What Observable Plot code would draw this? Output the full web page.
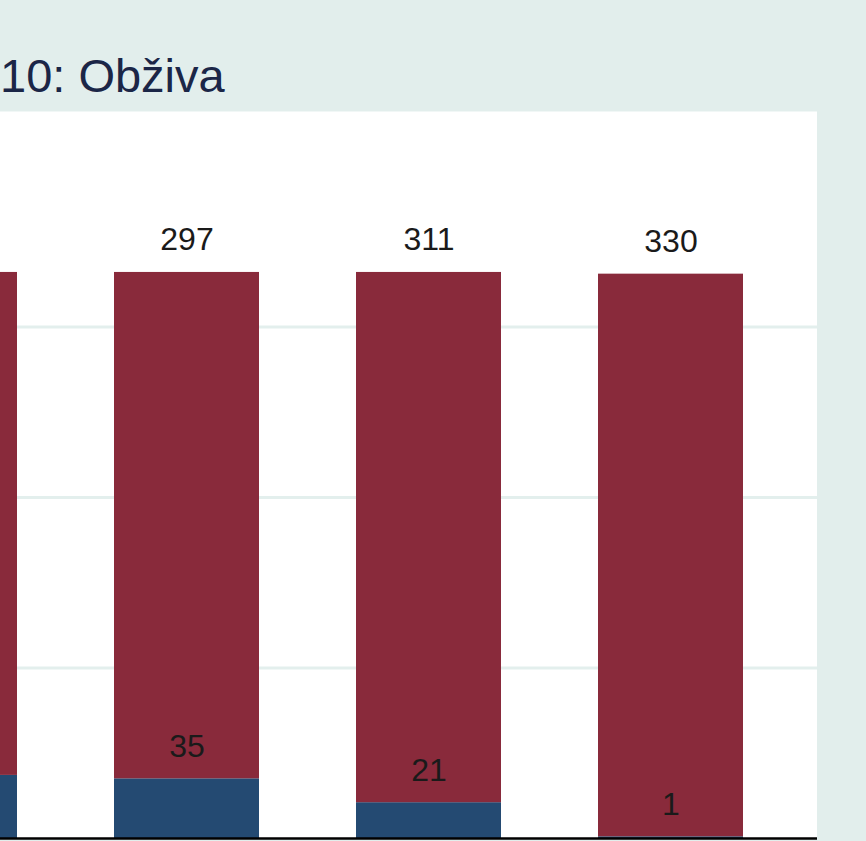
<!DOCTYPE html>
<html>
<head>
<meta charset="utf-8">
<script src="https://cdn.jsdelivr.net/npm/d3@7"></script>
<script src="https://cdn.jsdelivr.net/npm/@observablehq/plot@0.6"></script>
<style>
  html, body { margin: 0; padding: 0; }
  body { width: 866px; height: 841px; overflow: hidden; position: relative; background: #e2eeec; font-family: "Liberation Sans", Arial, sans-serif; }
  #title { position: absolute; left: 0px; top: 52px; font-size: 47px; line-height: 47px; color: #1b2647; white-space: nowrap; }
  #chart { position: absolute; left: -202px; top: 111px; }
</style>
</head>
<body>
<div id="title">10: Obživa</div>
<div id="chart"></div>
<script>
// Data (leftmost bar is cut off in the reference; its labels are not visible)
const categories = ["Skupina 1", "Skupina 2", "Skupina 3", "Skupina 4"];
const seriesNames = ["Da", "Ne"];           // bottom (blue), top (red)
const bottomValues = [37, 35, 21, 1];
const topValues = [295, 297, 311, 330];
const labelledCategories = ["Skupina 2", "Skupina 3", "Skupina 4"];
const gridTicks = [100, 200, 300];
const labelOffset = 19;

const rows = [];
categories.forEach((c, i) => {
  rows.push({cat: c, series: seriesNames[0], value: bottomValues[i]});
  rows.push({cat: c, series: seriesNames[1], value: topValues[i]});
});
const labels = categories.map((c, i) => ({
  cat: c, bottom: bottomValues[i], top: topValues[i], total: bottomValues[i] + topValues[i]
})).filter(d => labelledCategories.includes(d.cat));

const chart = Plot.plot({
  width: 1019,
  height: 730,
  marginLeft: 0,
  marginRight: 0,
  marginTop: 0,
  marginBottom: 3,
  style: {background: "transparent", fontFamily: "Liberation Sans, Arial, sans-serif"},
  x: {domain: categories, paddingInner: 0.4, paddingOuter: 0.3, axis: null},
  y: {domain: [0, 426.4], axis: null},
  color: {domain: seriesNames, range: ["#244a72", "#892a3b"]},
  marks: [
    Plot.frame({fill: "white", stroke: null}),
    Plot.ruleY(gridTicks, {stroke: "#e3efed", strokeWidth: 3}),
    Plot.barY(rows, {x: "cat", y: "value", fill: "series", order: seriesNames}),
    Plot.text(labels, {x: "cat", y: d => d.total + labelOffset, text: d => String(d.top), fontSize: 32, fill: "#1a1a1a"}),
    Plot.text(labels, {x: "cat", y: d => d.bottom + labelOffset, text: d => String(d.bottom), fontSize: 32, fill: "#1a1a1a"}),
    Plot.ruleY([0], {stroke: "black", strokeWidth: 2.5})
  ]
});
document.getElementById("chart").appendChild(chart);
</script>
</body>
</html>
